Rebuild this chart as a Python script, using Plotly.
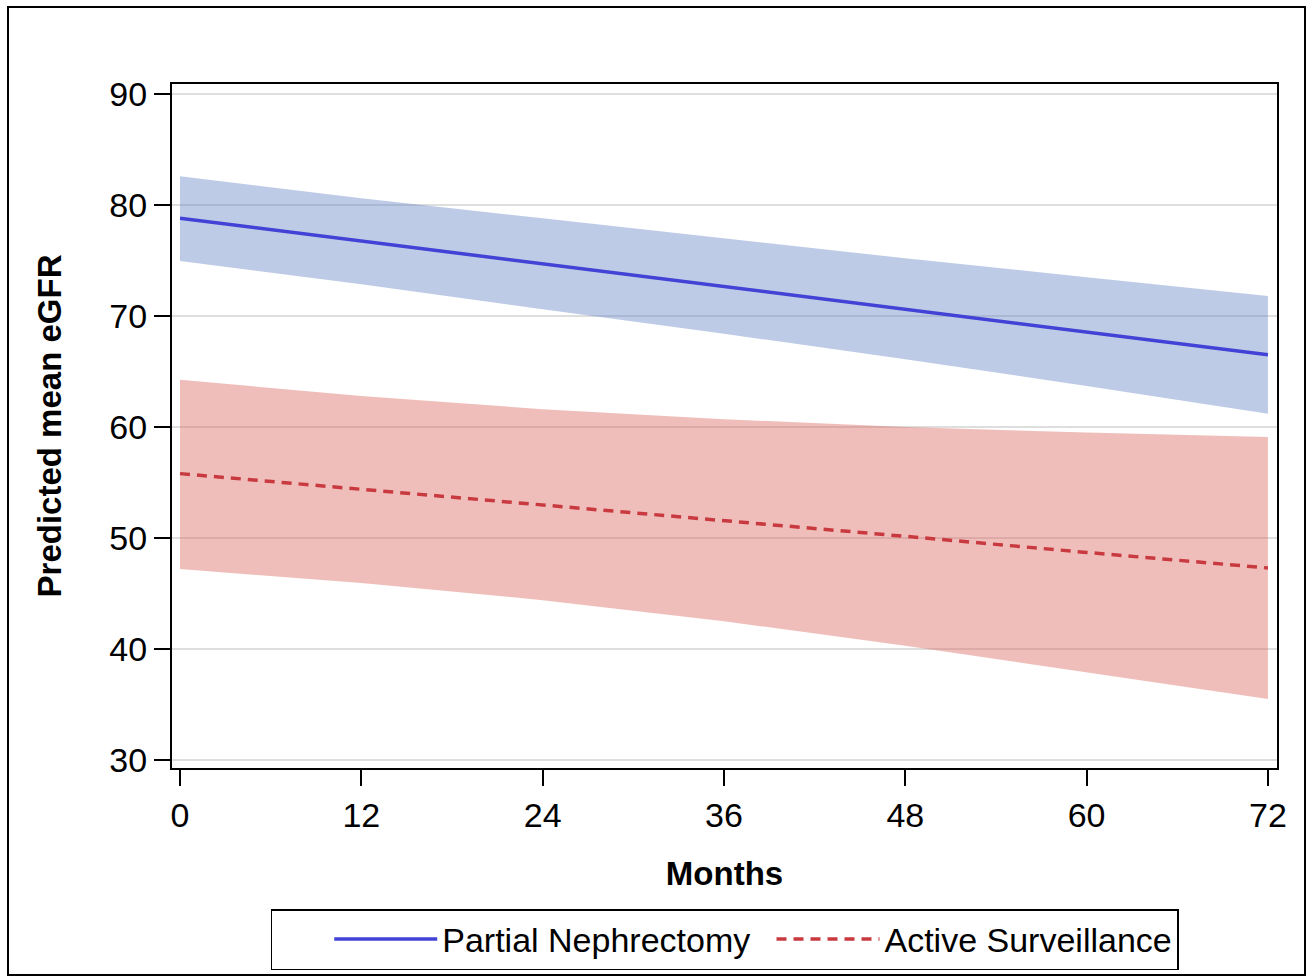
import plotly.graph_objects as go

months = [0, 12, 24, 36, 48, 60, 72]
pn_mean = [78.8, 76.75, 74.7, 72.65, 70.6, 68.55, 66.5]
pn_upper = [82.6, 80.6, 78.8, 77.0, 75.2, 73.5, 71.8]
pn_lower = [74.95, 72.85, 70.6, 68.4, 66.1, 63.7, 61.2]
as_mean = [55.8, 54.4, 53.0, 51.55, 50.15, 48.7, 47.3]
as_upper = [64.25, 62.8, 61.6, 60.7, 60.0, 59.5, 59.1]
as_lower = [47.2, 45.95, 44.4, 42.5, 40.3, 37.9, 35.5]

x_ticks = [0, 12, 24, 36, 48, 60, 72]
y_ticks = [30, 40, 50, 60, 70, 80, 90]

FONT = "Liberation Sans, Arial, Helvetica, sans-serif"
BLUE_FILL = "rgba(100,130,195,0.42)"
RED_FILL = "rgba(220,100,90,0.42)"
BLUE_LINE = "#4242D6"
RED_LINE = "#C83A40"

fig = go.Figure()

# PN band
fig.add_trace(go.Scatter(x=months, y=pn_lower, mode="lines", line=dict(width=0),
                         showlegend=False, hoverinfo="skip"))
fig.add_trace(go.Scatter(x=months, y=pn_upper, mode="lines", line=dict(width=0),
                         fill="tonexty", fillcolor=BLUE_FILL, showlegend=False, hoverinfo="skip"))
# AS band
fig.add_trace(go.Scatter(x=months, y=as_lower, mode="lines", line=dict(width=0),
                         showlegend=False, hoverinfo="skip"))
fig.add_trace(go.Scatter(x=months, y=as_upper, mode="lines", line=dict(width=0),
                         fill="tonexty", fillcolor=RED_FILL, showlegend=False, hoverinfo="skip"))

fig.add_trace(go.Scatter(x=months, y=pn_mean, mode="lines",
                         name="Partial Nephrectomy\u00a0\u2009",
                         line=dict(color=BLUE_LINE, width=3.5)))
fig.add_trace(go.Scatter(x=months, y=as_mean, mode="lines", name="Active Surveillance",
                         line=dict(color=RED_LINE, width=3.5, dash="10px,7px")))

W, H = 1313, 978
L, R, T, B = 172, 36, 84, 210
pw, ph = W - L - R, H - T - B

def px_x(p):
    return (p - L) / pw

def px_y(p):
    return (H - B - p) / ph

fig.update_layout(
    width=W, height=H,
    margin=dict(l=L, r=R, t=T, b=B, autoexpand=False),
    paper_bgcolor="white", plot_bgcolor="white",
    font=dict(family=FONT, size=32, color="black"),
    showlegend=True,
    legend=dict(orientation="h", x=0.5, xanchor="center", y=px_y(909), yanchor="top",
                bordercolor="black", borderwidth=1.5, font=dict(size=34, family=FONT),
                traceorder="normal", itemwidth=103,
                title=dict(text="\u00a0\u00a0\u00a0\u00a0\u00a0", side="left", font=dict(size=34)),
                bgcolor="white"),
    xaxis=dict(range=[-0.53, 72.6], tickvals=x_ticks, ticktext=[str(v) for v in x_ticks],
               showgrid=False, zeroline=False, showline=True, linecolor="black", linewidth=2,
               mirror=True, ticks="outside", ticklen=16, tickwidth=2, tickcolor="black",
               tickfont=dict(size=34),
               title=dict(text="<b>Months</b>", font=dict(size=33), standoff=29)),
    yaxis=dict(range=[29.28, 90.9], tickvals=y_ticks, ticktext=[str(v) for v in y_ticks],
               showgrid=True, gridcolor="#DEDEDE", gridwidth=1.5, zeroline=False,
               showline=True, linecolor="black", linewidth=2, mirror=True,
               ticks="outside", ticklen=16, tickwidth=2, tickcolor="black",
               tickfont=dict(size=34),
               title=dict(text="<b>Predicted mean eGFR</b>", font=dict(size=33), standoff=38)),
    shapes=[dict(type="rect", xref="paper", yref="paper",
                 x0=px_x(8), x1=px_x(1305), y0=px_y(975), y1=px_y(7),
                 line=dict(color="black", width=2), fillcolor="rgba(0,0,0,0)", layer="below")],
)

fig.write_html("out.html")
